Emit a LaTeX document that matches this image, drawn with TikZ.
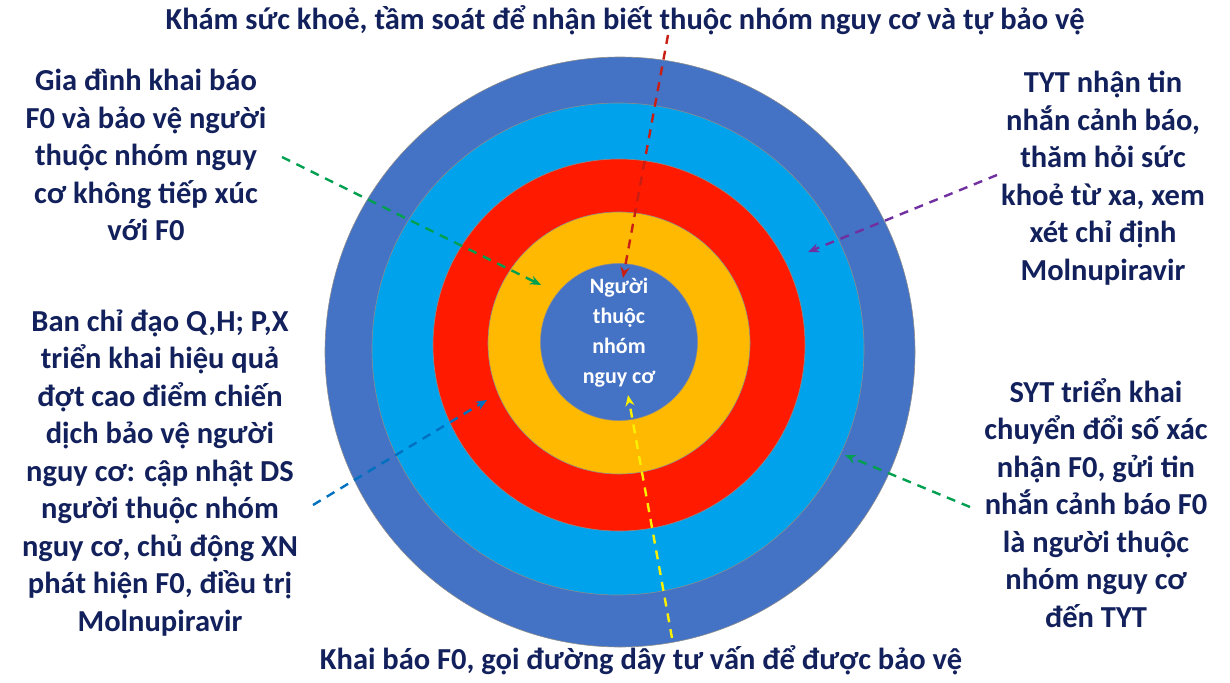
\documentclass[tikz,border=0pt]{standalone}
\usepackage{fontspec}
\setmainfont{Carlito}
\usepackage{xcolor}
\usetikzlibrary{arrows.meta}
\definecolor{xanhdam}{RGB}{68,114,196}
\definecolor{xanhnhat}{RGB}{0,162,236}
\definecolor{dotuoi}{RGB}{255,26,0}
\definecolor{camvang}{RGB}{255,185,0}
\definecolor{chuxanh}{RGB}{18,32,92}
\definecolor{ddo}{RGB}{200,30,20}
\definecolor{dxanhla}{RGB}{0,160,80}
\definecolor{dxanh}{RGB}{0,112,192}
\definecolor{dtim}{RGB}{112,48,160}
\definecolor{dvang}{RGB}{250,240,0}

\begin{document}
\begin{tikzpicture}[x=1pt,y=-1pt,
	vong/.style={circle,draw=black!45,line width=.6pt,inner sep=0pt},
	chu/.style={text=chuxanh,font=\bfseries\fontsize{30.5}{37.5}\selectfont,align=center},
	muiten/.style={line width=2.4pt,dash pattern=on 9pt off 7pt,-{Stealth[length=11pt,width=9pt]}}]
\useasboundingbox (0,0) rectangle (1230,682);
\node[vong,fill=xanhdam,minimum size=590pt] (ngoai) at (620,352) {};
\node[vong,fill=xanhnhat,minimum size=492pt] (vong2) at (618,349) {};
\node[vong,fill=dotuoi,minimum size=372pt] (vong3) at (619,345) {};
\node[vong,fill=camvang,minimum size=262pt] (vong4) at (619,343) {};
\node[vong,fill=xanhdam,minimum size=157pt] (tam) at (619,342) {};
\node[text=white,font=\bfseries\fontsize{22}{30}\selectfont,align=center] (nhan) at (619,333) {Người\\thuộc\\nhóm\\nguy cơ};

\node[chu] (tren) at (625,20) {Khám sức khoẻ, tầm soát để nhận biết thuộc nhóm nguy cơ và tự bảo vệ};
\node[chu] (duoi) at (641,660) {Khai báo F0, gọi đường dây tư vấn để được bảo vệ};
\node[chu] (giadinh) at (146,155) {Gia đình khai báo\\F0 và bảo vệ người\\thuộc nhóm nguy\\cơ không tiếp xúc\\với F0};
\node[chu] (banchidao) at (160,473) {Ban chỉ đạo Q,H; P,X\\triển khai hiệu quả\\đợt cao điểm chiến\\dịch bảo vệ người\\nguy cơ: cập nhật DS\\người thuộc nhóm\\nguy cơ, chủ động XN\\phát hiện F0, điều trị\\Molnupiravir};
\node[chu] (tyt) at (1103,178) {TYT nhận tin\\nhắn cảnh báo,\\thăm hỏi sức\\khoẻ từ xa, xem\\xét chỉ định\\Molnupiravir};
\node[chu] (syt) at (1096,503) {SYT triển khai\\chuyển đổi số xác\\nhận F0, gửi tin\\nhắn cảnh báo F0\\là người thuộc\\nhóm nguy cơ\\đến TYT};

\coordinate (doA) at (668,35); \coordinate (doB) at (623,278);
\coordinate (xlA) at (282,157); \coordinate (xlB) at (541,285);
\coordinate (xdA) at (313,505); \coordinate (xdB) at (487,400);
\coordinate (timA) at (997,175); \coordinate (timB) at (808,252);
\coordinate (xpA) at (970,507); \coordinate (xpB) at (845,455);
\coordinate (vangA) at (672,638); \coordinate (vangB) at (628,395);
\draw[muiten,draw=ddo] (doA) -- (doB);
\draw[muiten,draw=dxanhla] (xlA) -- (xlB);
\draw[muiten,draw=dxanh] (xdA) -- (xdB);
\draw[muiten,draw=dtim] (timA) -- (timB);
\draw[muiten,draw=dxanhla] (xpA) -- (xpB);
\draw[muiten,draw=dvang] (vangA) -- (vangB);
\end{tikzpicture}
\end{document}
